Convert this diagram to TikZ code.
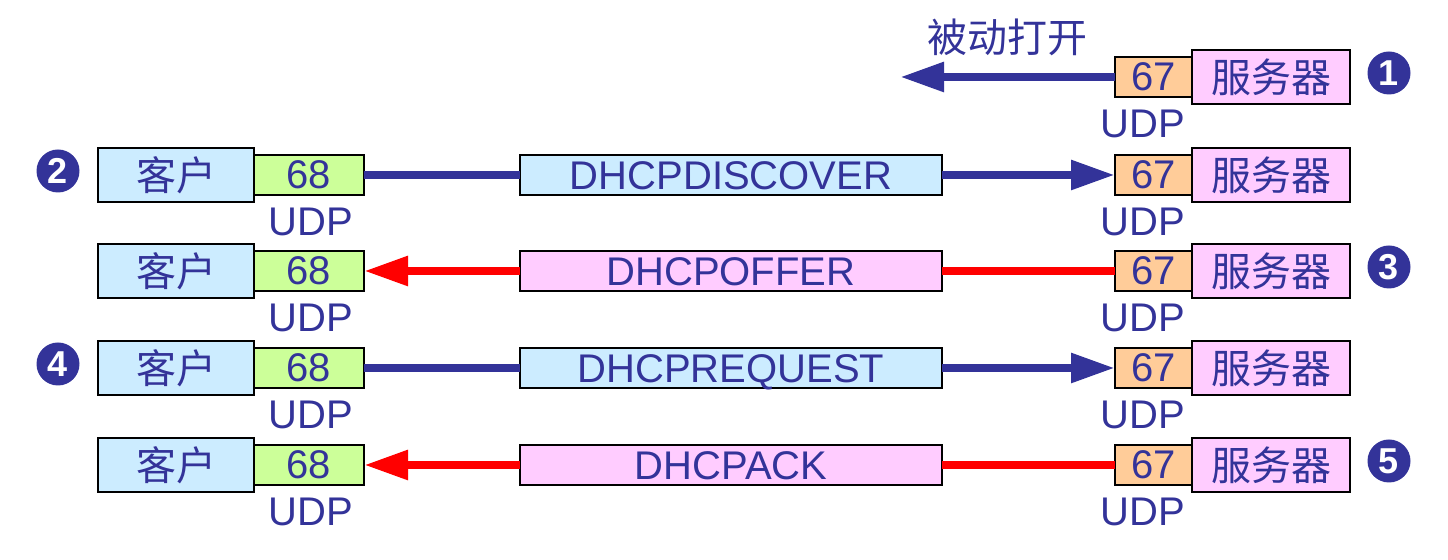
\documentclass[tikz,border=0pt]{standalone}
\usepackage{fontspec}
\setmainfont{Liberation Sans}
\newfontfamily\cjk{Noto Sans CJK SC}
\usetikzlibrary{positioning,arrows.meta}
\definecolor{ink}{HTML}{333399}
\definecolor{cliblue}{HTML}{CCECFF}
\definecolor{udpgreen}{HTML}{CCFF99}
\definecolor{udporange}{HTML}{FFCC99}
\definecolor{srvpink}{HTML}{FFCCFF}

\begin{document}
\begin{tikzpicture}[x=0.5pt, y=-0.5pt,
  cell/.style = {draw, line width=1pt, text=ink, inner sep=0pt, outer sep=0pt, font=\fontsize{20pt}{24pt}\selectfont},
  client/.style = {cell, fill=cliblue, minimum width=78pt, minimum height=27pt, font=\cjk\fontsize{20pt}{24pt}\selectfont},
  server/.style = {cell, fill=srvpink, minimum width=79pt, minimum height=27pt, font=\cjk\fontsize{20pt}{24pt}\selectfont},
  p68/.style = {cell, fill=udpgreen, minimum width=55pt, minimum height=20pt},
  p67/.style = {cell, fill=udporange, minimum width=38.5pt, minimum height=20pt},
  msg/.style = {cell, minimum width=211pt, minimum height=20pt, text height=14.4pt, text depth=0pt},
  udp/.style = {text=ink, inner sep=0pt, font=\fontsize{20pt}{24pt}\selectfont},
  num/.style = {circle, fill=ink, text=white, minimum size=21.5pt, inner sep=0pt, font=\bfseries\fontsize{18pt}{20pt}\selectfont},
  flow/.style = {line width=4.3pt},
  headed/.style = {-{Triangle[length=22pt, width=14pt]}}]
\useasboundingbox (0,0) rectangle (1448,560);

% 1: server opens passively
\node[server] (s1) at (1271,77) {服务器};
\node[p67] (q1) [left=0pt of s1] {67};
\node[udp, below=6.5pt of q1, xshift=-5.5pt] (uq1) {UDP};
\coordinate[left=107.5pt of q1] (open);
\draw[flow, ink, headed] (q1) -- node[udp, above=8.5pt, font=\cjk\fontsize{20pt}{24pt}\selectfont] (passive) {被动打开} (open);
\node[num] (n1) at (1389,73) {1};

% 2: DHCPDISCOVER
\node[client] (c2) at (176,175) {客户};
\node[p68] (p2) [right=0pt of c2] {68};
\node[udp, below=6.5pt of p2, xshift=1pt] (up2) {UDP};
\node[msg, fill=cliblue] (m2) at (731,175) {DHCPDISCOVER};
\node[server] (s2) at (1271,175) {服务器};
\node[p67] (q2) [left=0pt of s2] {67};
\node[udp, below=6.5pt of q2, xshift=-5.5pt] (uq2) {UDP};
\node[num] (n2) at (58,171) {2};
\draw[flow, ink] (p2) -- (m2);
\draw[flow, ink, headed] (m2) -- (q2);

% 3: DHCPOFFER
\node[client] (c3) at (176,271) {客户};
\node[p68] (p3) [right=0pt of c3] {68};
\node[udp, below=6.5pt of p3, xshift=1pt] (up3) {UDP};
\node[msg, fill=srvpink] (m3) at (731,271) {DHCPOFFER};
\node[server] (s3) at (1271,271) {服务器};
\node[p67] (q3) [left=0pt of s3] {67};
\node[udp, below=6.5pt of q3, xshift=-5.5pt] (uq3) {UDP};
\node[num] (n3) at (1389,267) {3};
\draw[flow, red] (q3) -- (m3);
\draw[flow, red, headed] (m3) -- (p3);

% 4: DHCPREQUEST
\node[client] (c4) at (176,368) {客户};
\node[p68] (p4) [right=0pt of c4] {68};
\node[udp, below=6.5pt of p4, xshift=1pt] (up4) {UDP};
\node[msg, fill=cliblue] (m4) at (731,368) {DHCPREQUEST};
\node[server] (s4) at (1271,368) {服务器};
\node[p67] (q4) [left=0pt of s4] {67};
\node[udp, below=6.5pt of q4, xshift=-5.5pt] (uq4) {UDP};
\node[num] (n4) at (58,364) {4};
\draw[flow, ink] (p4) -- (m4);
\draw[flow, ink, headed] (m4) -- (q4);

% 5: DHCPACK
\node[client] (c5) at (176,465) {客户};
\node[p68] (p5) [right=0pt of c5] {68};
\node[udp, below=6.5pt of p5, xshift=1pt] (up5) {UDP};
\node[msg, fill=srvpink] (m5) at (731,465) {DHCPACK};
\node[server] (s5) at (1271,465) {服务器};
\node[p67] (q5) [left=0pt of s5] {67};
\node[udp, below=6.5pt of q5, xshift=-5.5pt] (uq5) {UDP};
\node[num] (n5) at (1389,461) {5};
\draw[flow, red] (q5) -- (m5);
\draw[flow, red, headed] (m5) -- (p5);
\end{tikzpicture}
\end{document}
